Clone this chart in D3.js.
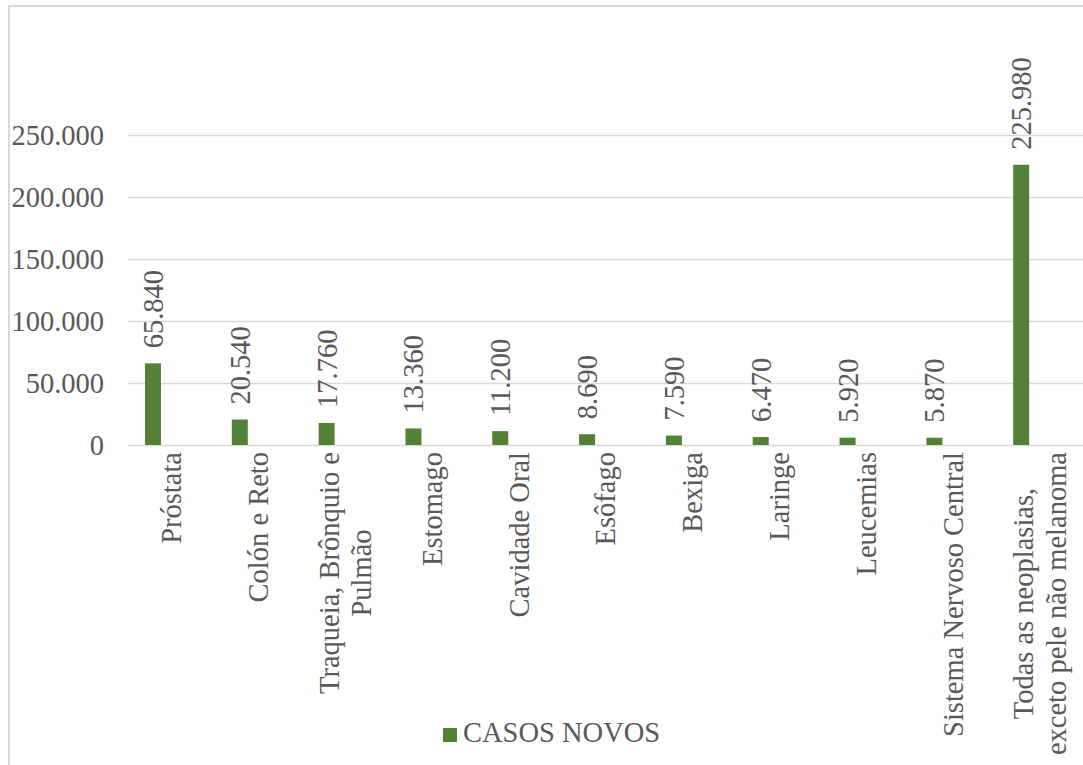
<!DOCTYPE html>
<html>
<head>
<meta charset="utf-8">
<script src="https://cdn.jsdelivr.net/npm/d3@7"></script>
<style>
  body { margin: 0; background: #fff; }
  text { font-family: "Times New Roman", "Liberation Serif", Tinos, "DejaVu Serif", serif; fill: #595959; }
</style>
</head>
<body>
<svg id="chart" width="1083" height="765"></svg>
<script>
// categorias (linhas separadas por "\n")
const categories = [
    "Próstata",
    "Colón e Reto",
    "Traqueia, Brônquio e\nPulmão",
    "Estomago",
    "Cavidade Oral",
    "Esôfago",
    "Bexiga",
    "Laringe",
    "Leucemias",
    "Sistema Nervoso Central",
    "Todas as neoplasias,\nexceto pele não melanoma"
];
const casosNovos = [65840, 20540, 17760, 13360, 11200, 8690, 7590, 6470, 5920, 5870, 225980];
const yTicks = [0, 50000, 100000, 150000, 200000, 250000];
const seriesName = "CASOS NOVOS";

const green = "#538135";
const grid = "#d9d9d9";
const fontSize = 28.5;

const ptBR = d3.formatLocale({ decimal: ",", thousands: ".", grouping: [3], currency: ["R$", ""] });
const fmt = ptBR.format(",");

const svg = d3.select("#chart");
const width = +svg.attr("width"),
    height = +svg.attr("height");

// moldura do gráfico
svg.append("rect")
    .attr("x", 9).attr("y", 6)
    .attr("width", width + 20).attr("height", height + 20)
    .attr("fill", "none")
    .attr("stroke", grid)
    .attr("stroke-width", 2);

const x = d3.scaleBand()
    .domain(categories)
    .range([128, 1083]);

const y = d3.scaleLinear()
    .domain([0, 300000])
    .range([445, 73]);

const barWidth = 16;
const barOffset = 17; // barra deslocada à esquerda dentro da categoria

// grade + rótulos do eixo y
const yAxis = svg.append("g")
    .attr("transform", `translate(128,0)`)
    .call(d3.axisLeft(y).tickValues(yTicks).tickFormat(fmt).tickSize(0).tickPadding(24))
    .call(g => g.select(".domain").remove())
    .attr("font-family", null);
yAxis.selectAll(".tick text")
    .attr("font-size", fontSize)
    .attr("fill", "#595959")
    .attr("dy", "0.35em");
yAxis.selectAll(".tick line")
    .attr("x2", width - 128)
    .attr("stroke", grid)
    .attr("stroke-width", 1.3);

// barras
svg.append("g")
    .selectAll("rect")
    .data(casosNovos)
    .join("rect")
    .attr("x", (d, i) => x(categories[i]) + barOffset)
    .attr("y", d => y(d))
    .attr("width", barWidth)
    .attr("height", d => y(0) - y(d))
    .attr("fill", green);

// rótulos de valor
svg.append("g")
    .selectAll("text")
    .data(casosNovos)
    .join("text")
    .attr("transform", (d, i) => `translate(${x(categories[i]) + barOffset + barWidth / 2},${y(d) - 15}) rotate(-90)`)
    .attr("dy", "0.35em")
    .attr("font-size", fontSize)
    .text(d => fmt(d));

// rótulos das categorias (rotacionados)
const lineH = fontSize * 1.15;
const cat = svg.append("g")
    .selectAll("g")
    .data(categories)
    .join("g")
    .attr("transform", d => `translate(${x(d) + x.bandwidth() / 2},452) rotate(-90)`);

cat.each(function(d) {
    const g = d3.select(this);
    const lines = d.split("\n");
    const n = lines.length;
    const texts = lines.map((l, i) => g.append("text")
        .attr("font-size", fontSize)
        .attr("y", (i - (n - 1) / 2) * lineH)
        .attr("dy", "0.35em")
        .text(l));
    const w = d3.max(texts, t => t.node().getComputedTextLength());
    texts.forEach(t => t.attr("x", -w / 2).attr("text-anchor", "middle"));
});

// legenda
const leg = svg.append("g").attr("transform", "translate(443,728)");
leg.append("rect")
    .attr("width", 14).attr("height", 14)
    .attr("fill", green);
leg.append("text")
    .attr("x", 20).attr("y", 14)
    .attr("font-size", fontSize)
    .text(seriesName);
</script>
</body>
</html>
